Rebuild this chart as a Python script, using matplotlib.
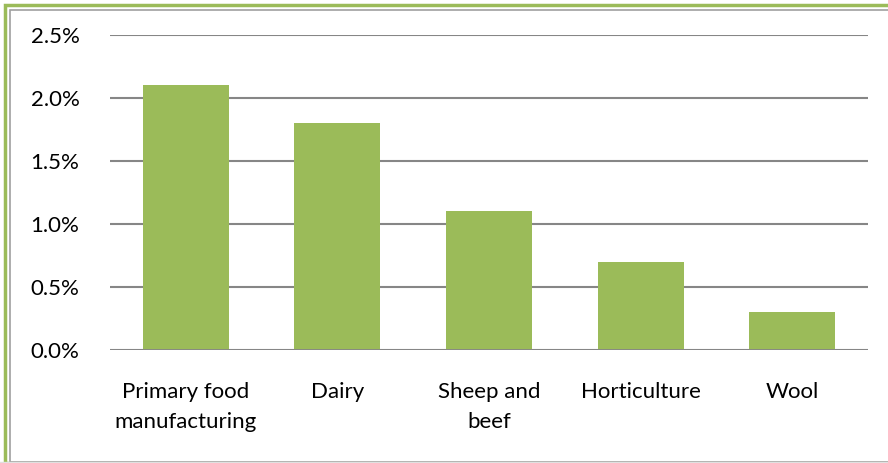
import numpy as np
import matplotlib
matplotlib.use("Agg")
import matplotlib.pyplot as plt
from matplotlib.patches import Rectangle
from matplotlib.lines import Line2D

# data
categories = ["Primary food\nmanufacturing", "Dairy", "Sheep and\nbeef", "Horticulture", "Wool"]
values = [2.1, 1.8, 1.1, 0.7, 0.3]
yticks = [0.0, 0.5, 1.0, 1.5, 2.0, 2.5]

plt.rcParams['font.family'] = ['Lato', 'DejaVu Sans']

fig = plt.figure(figsize=(8.88, 4.63), dpi=100)
W, H = 888, 463
ax = fig.add_axes([110 / W, 1 - 350 / H, 758 / W, 315 / H])

x = np.arange(len(categories))
ax.bar(x, values, width=0.567, color='#9BBB59', zorder=3)
ax.set_xlim(-0.5, len(categories) - 0.5)
ax.set_ylim(0, 2.5)
ax.set_yticks(yticks)
ax.set_yticklabels(['%.1f%%' % v for v in yticks], fontsize=16)
ax.set_xticks(x)
ax.set_xticklabels(categories, fontsize=16, linespacing=1.6, va='top')
ax.tick_params(axis='y', length=0, pad=22)
ax.tick_params(axis='x', length=0, pad=23)
ax.yaxis.grid(True, color='#868686', linewidth=1.5, zorder=0)
for s in ax.spines.values():
    s.set_visible(False)
ax.axhline(0, color='#868686', linewidth=2, zorder=4)

# frame around the chart
fig.add_artist(Rectangle((4.5 / W, 0), 1, 1 - 4.5 / H, transform=fig.transFigure,
                         fill=False, edgecolor='#9BBB59', linewidth=2.5))
fig.add_artist(Rectangle((10 / W, 1.5 / H), 1, 1 - 11.5 / H, transform=fig.transFigure,
                         fill=False, edgecolor='#A0A0A0', linewidth=1.2))
fig.add_artist(Line2D([0, 1], [1.5 / H, 1.5 / H], transform=fig.transFigure,
                      color='#E0E0E0', linewidth=1))

fig.savefig('out.png', dpi=100)
